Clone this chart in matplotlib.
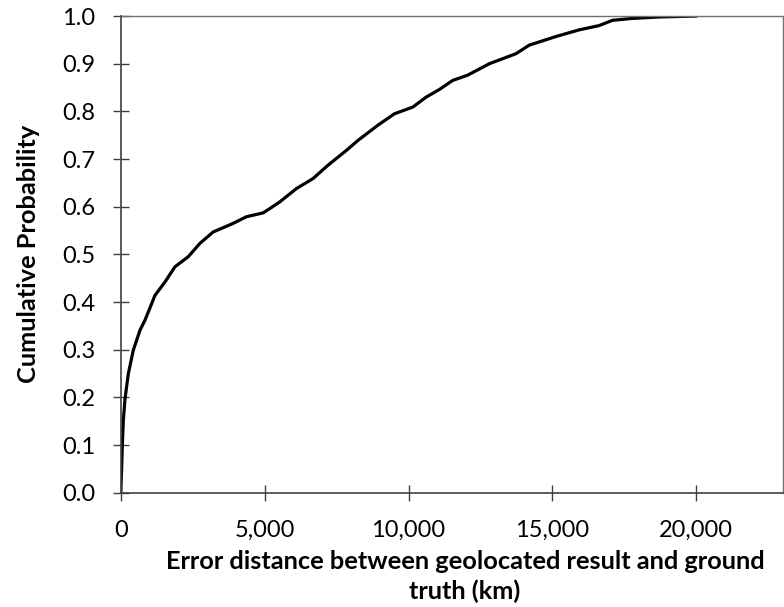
import matplotlib.pyplot as plt
import numpy as np
from matplotlib.ticker import FuncFormatter

# error distance (km) vs cumulative probability
distance_km = [0, 30, 55, 90, 150, 265, 437, 670, 843, 1190, 1537, 1884, 2345,
               2750, 3212, 3906, 4370, 4946, 5179, 5525, 6104, 6681, 7201, 7839,
               8242, 8935, 9514, 10149, 10614, 11075, 11537, 12057, 12810,
               13735, 14197, 15123, 15931, 16625, 17087, 17780, 18706, 19980]
cum_prob = [0.0, 0.05, 0.10, 0.152, 0.198, 0.25, 0.299, 0.341, 0.362, 0.414,
            0.442, 0.474, 0.495, 0.523, 0.547, 0.565, 0.579, 0.587, 0.596,
            0.610, 0.638, 0.659, 0.687, 0.718, 0.739, 0.771, 0.795, 0.809,
            0.830, 0.846, 0.865, 0.876, 0.900, 0.921, 0.939, 0.957, 0.971,
            0.980, 0.991, 0.995, 0.998, 1.0]

x_ticks = [0, 5000, 10000, 15000, 20000]
y_ticks = np.arange(0, 11) / 10

plt.rcParams['font.family'] = ['Lato', 'DejaVu Sans']

fig = plt.figure(figsize=(7.84, 6.07), dpi=100)
ax = fig.add_axes([0.154, 0.1883, 0.8443, 0.7853])

ax.plot(distance_km, cum_prob, color='black', lw=2.3, solid_joinstyle='round')

ax.set_xlim(0, 23000)
ax.set_ylim(0, 1.0)
ax.set_xticks(x_ticks)
ax.set_yticks(y_ticks)
ax.xaxis.set_major_formatter(FuncFormatter(lambda v, p: f"{int(v):,}"))
ax.yaxis.set_major_formatter(FuncFormatter(lambda v, p: f"{v:.1f}"))
ax.tick_params(direction='inout', length=11, width=1, colors='#404040',
               labelcolor='black', labelsize=17)
ax.tick_params(axis='x', pad=14)
ax.tick_params(axis='y', pad=13)

for side in ['top', 'right']:
    ax.spines[side].set_color('#707070')
    ax.spines[side].set_linewidth(1)
for side in ['left', 'bottom']:
    ax.spines[side].set_color('#404040')
    ax.spines[side].set_linewidth(1.2)

ax.set_xlabel('Error distance between geolocated result and ground\ntruth (km)',
              fontsize=18.3, fontweight='bold', linespacing=1.35)
ax.set_ylabel('Cumulative Probability', fontsize=18.3, fontweight='bold')
ax.xaxis.set_label_coords((465 - 120.7) / 662, -0.12)
ax.yaxis.set_label_coords(-0.14, 0.5)
ax.xaxis.label.set_verticalalignment('top')
ax.yaxis.label.set_verticalalignment('center')

fig.savefig('out.png', dpi=100)
